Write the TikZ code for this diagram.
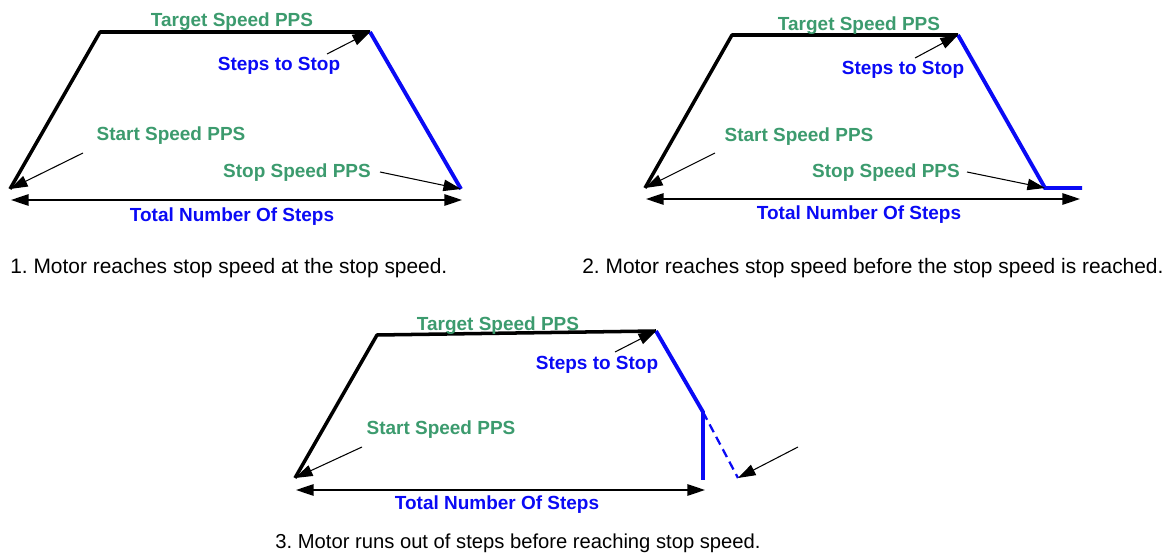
\documentclass[tikz,border=0pt]{standalone}
\usepackage{fontspec}
\setmainfont{Liberation Sans}
\usetikzlibrary{arrows.meta}
\definecolor{ppsgreen}{RGB}{60,155,110}
\definecolor{stepblue}{RGB}{10,10,245}
\frenchspacing

\begin{document}
\begin{tikzpicture}[x=0.02cm,y=-0.02cm,
  >={Triangle[length=10pt,width=6.5pt]},
  ramp/.style={line width=2pt,line join=round},
  decel/.style={line width=2.2pt,stepblue},
  pointer/.style={->,line width=0.6pt},
  span/.style={<->,line width=0.9pt},
  speedlbl/.style={ppsgreen,font=\bfseries\fontsize{10.8}{13}\selectfont},
  stepslbl/.style={stepblue,font=\bfseries\fontsize{10.8}{13}\selectfont},
  caption/.style={font=\fontsize{11.9}{14}\selectfont}]
\useasboundingbox (0,0) rectangle (1174,553);

% 1. stop speed at the last step
\coordinate (a0) at (10,189);
\coordinate (a1) at (100,32);
\coordinate (a2) at (370,32);
\coordinate (a3) at (461,189);
\draw[ramp] (a0)--(a1)--(a2);
\draw[decel] (a2)--(a3);
\node[speedlbl] (a-target) at (232,22) {Target Speed PPS};
\node[stepslbl] (a-steps) at (279,66) {Steps to Stop};
\node[speedlbl] (a-start) at (171,136) {Start Speed PPS};
\node[speedlbl] (a-stop) at (297,173) {Stop Speed PPS};
\coordinate (a-s1) at (327,54);
\coordinate (a-s2) at (83,153);
\coordinate (a-s3) at (380,172);
\draw[pointer] (a-s1)--(a2);
\draw[pointer] (a-s2)--(a0);
\draw[pointer] (a-s3)--(a3);
\coordinate (a-l) at (11,200);
\coordinate (a-r) at (462,200);
\draw[span] (a-l)--(a-r);
\node[stepslbl] (a-total) at (232,217) {Total Number Of Steps};
\node[caption,anchor=west,inner sep=0pt] (a-cap) at (10,268) {1. Motor reaches stop speed at the stop speed.};

% 2. stop speed before the last step
\coordinate (b0) at (645,188);
\coordinate (b1) at (732,35);
\coordinate (b2) at (958,35);
\coordinate (b3) at (1045,188);
\coordinate (b4) at (1082,188);
\draw[ramp] (b0)--(b1)--(b2);
\draw[decel] (b2)--(b3)--(b4);
\node[speedlbl] (b-target) at (859,26) {Target Speed PPS};
\node[stepslbl] (b-steps) at (903,70) {Steps to Stop};
\node[speedlbl] (b-start) at (799,137) {Start Speed PPS};
\node[speedlbl] (b-stop) at (886,173) {Stop Speed PPS};
\coordinate (b-s1) at (915,58);
\coordinate (b-s2) at (715,153);
\coordinate (b-s3) at (967,172);
\draw[pointer] (b-s1)--(b2);
\draw[pointer] (b-s2)--(b0);
\draw[pointer] (b-s3)--(b3);
\coordinate (b-l) at (646,199);
\coordinate (b-r) at (1080,199);
\draw[span] (b-l)--(b-r);
\node[stepslbl] (b-total) at (859,215) {Total Number Of Steps};
\node[caption,anchor=west,inner sep=0pt] (b-cap) at (582,268) {2. Motor reaches stop speed before the stop speed is reached.};

% 3. out of steps
\coordinate (c0) at (295,478);
\coordinate (c1) at (377,335);
\coordinate (c2) at (656,331);
\coordinate (c3) at (703,412);
\coordinate (c4) at (703,480);
\coordinate (c5) at (738,478);
\draw[ramp] (c0)--(c1)--(c2);
\draw[decel] (c2)--(c3)--(c4);
\draw[stepblue,line width=1.3pt,dash pattern=on 5pt off 3pt] (c3)--(c5);
\node[speedlbl] (c-target) at (498,326) {Target Speed PPS};
\node[stepslbl] (c-steps) at (597,365) {Steps to Stop};
\node[speedlbl] (c-start) at (441,430) {Start Speed PPS};
\coordinate (c-s1) at (615,352);
\coordinate (c-s2) at (362,447);
\coordinate (c-s3) at (798,447);
\draw[pointer] (c-s1)--(c2);
\draw[pointer] (c-s2)--(c0);
\draw[pointer] (c-s3)--(c5);
\coordinate (c-l) at (296,490);
\coordinate (c-r) at (705,490);
\draw[span] (c-l)--(c-r);
\node[stepslbl] (c-total) at (497,505) {Total Number Of Steps};
\node[caption,font=\fontsize{11.5}{14}\selectfont] (c-cap) at (518,543) {3. Motor runs out of steps before reaching stop speed.};
\end{tikzpicture}
\end{document}
